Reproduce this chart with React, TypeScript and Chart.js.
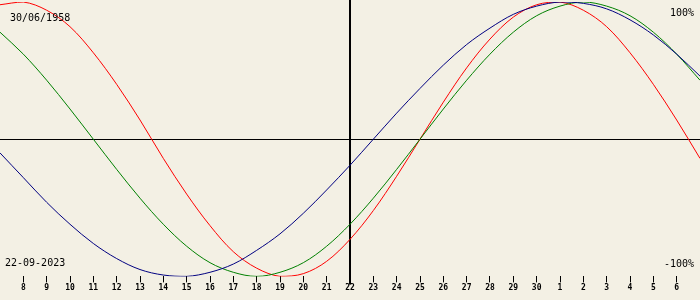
import React, { useEffect, useRef } from "react";
import { Chart, registerables } from "chart.js";

Chart.register(...registerables);

const DAYS = [
  "7", "8", "9", "10", "11", "12", "13", "14", "15", "16", "17", "18", "19", "20", "21", "22",
  "23", "24", "25", "26", "27", "28", "29", "30", "1", "2", "3", "4", "5", "6", "7",
];
const PHYSICAL = [
  98, 100, 94, 82, 63, 40, 14, -14, -40, -63, -82, -94, -100, -98, -89, -73,
  -52, -27, 0, 27, 52, 73, 89, 98, 100, 94, 82, 63, 40, 14, -14,
];
const EMOTIONAL = [
  78, 62, 43, 22, 0, -22, -43, -62, -78, -90, -97, -100, -97, -90, -78, -62,
  -43, -22, 0, 22, 43, 62, 78, 90, 97, 100, 97, 90, 78, 62, 43,
];
const INTELLECTUAL = [
  -10, -28, -46, -62, -76, -87, -95, -99, -100, -97, -91, -81, -69, -54, -37, -19,
  0, 19, 37, 54, 69, 81, 91, 97, 100, 99, 95, 87, 76, 62, 46,
];
const TODAY_INDEX = 15;
const BIRTH_LABEL = "30/06/1958";
const DATE_LABEL = "22-09-2023";
const TOP_LABEL = "100%";
const BOTTOM_LABEL = "-100%";

const BG = "#F3F0E4";
const FONT = '10px "DejaVu Sans Mono", monospace';

export default function App() {
  const ref = useRef<HTMLCanvasElement | null>(null);

  useEffect(() => {
    document.body.style.margin = "0";
    const canvas = ref.current;
    if (!canvas) return;

    const overlay = {
      id: "overlay",
      beforeDraw(chart: any) {
        const { ctx, width, height } = chart;
        ctx.save();
        ctx.fillStyle = BG;
        ctx.fillRect(0, 0, width, height);
        ctx.restore();
      },
      beforeDatasetsDraw(chart: any) {
        const { ctx, chartArea, scales } = chart;
        const y0 = Math.round(scales.y.getPixelForValue(0)) + 0.5;
        const xT = Math.round(scales.x.getPixelForValue(TODAY_INDEX));
        ctx.save();
        ctx.strokeStyle = "#000";
        ctx.lineWidth = 1;
        ctx.beginPath();
        ctx.moveTo(0, y0);
        ctx.lineTo(chart.width, y0);
        ctx.stroke();
        ctx.lineWidth = 2;
        ctx.beginPath();
        ctx.moveTo(xT, 0);
        ctx.lineTo(xT, chartArea.bottom + 8);
        ctx.stroke();
        ctx.restore();
      },
      afterDraw(chart: any) {
        const { ctx } = chart;
        ctx.save();
        ctx.fillStyle = "#000";
        ctx.font = FONT;
        ctx.textBaseline = "alphabetic";
        ctx.textAlign = "left";
        ctx.fillText(BIRTH_LABEL, 10, 21);
        ctx.fillText(DATE_LABEL, 5, 266);
        ctx.textAlign = "right";
        ctx.fillText(TOP_LABEL, 694, 16);
        ctx.fillText(BOTTOM_LABEL, 694, 267);
        ctx.restore();
      },
    };

    const chart = new Chart(canvas, {
      type: "line",
      data: {
        labels: DAYS,
        datasets: [
          { label: "Intellectual", data: INTELLECTUAL, borderColor: "#000080" },
          { label: "Emotional", data: EMOTIONAL, borderColor: "#008000" },
          { label: "Physical", data: PHYSICAL, borderColor: "#FF0000" },
        ].map((d) => ({
          ...d,
          borderWidth: 1,
          pointRadius: 0,
          fill: false,
          tension: 0.34,
        })),
      },
      options: {
        animation: false,
        responsive: false,
        maintainAspectRatio: false,
        layout: { padding: { top: 2, bottom: 6, left: 0, right: 0 } },
        plugins: { legend: { display: false }, tooltip: { enabled: false } },
        scales: {
          x: {
            type: "category",
            offset: false,
            border: { display: false },
            grid: {
              drawOnChartArea: false,
              drawTicks: true,
              tickLength: 6,
              color: "#000",
              offset: false,
            },
            ticks: {
              autoSkip: false,
              maxRotation: 0,
              minRotation: 0,
              padding: 1,
              color: "#000",
              font: { family: '"DejaVu Sans Mono", monospace', size: 8, weight: "bold" },
              callback: (_v: any, i: number) =>
                i === 0 || i === DAYS.length - 1 ? null : DAYS[i],
            },
          },
          y: { display: false, min: -100, max: 100 },
        },
      },
      plugins: [overlay],
    });
    return () => chart.destroy();
  }, []);

  return (
    <div style={{ width: 700, height: 300 }}>
      <canvas ref={ref} width={700} height={300} style={{ display: "block" }} />
    </div>
  );
}
